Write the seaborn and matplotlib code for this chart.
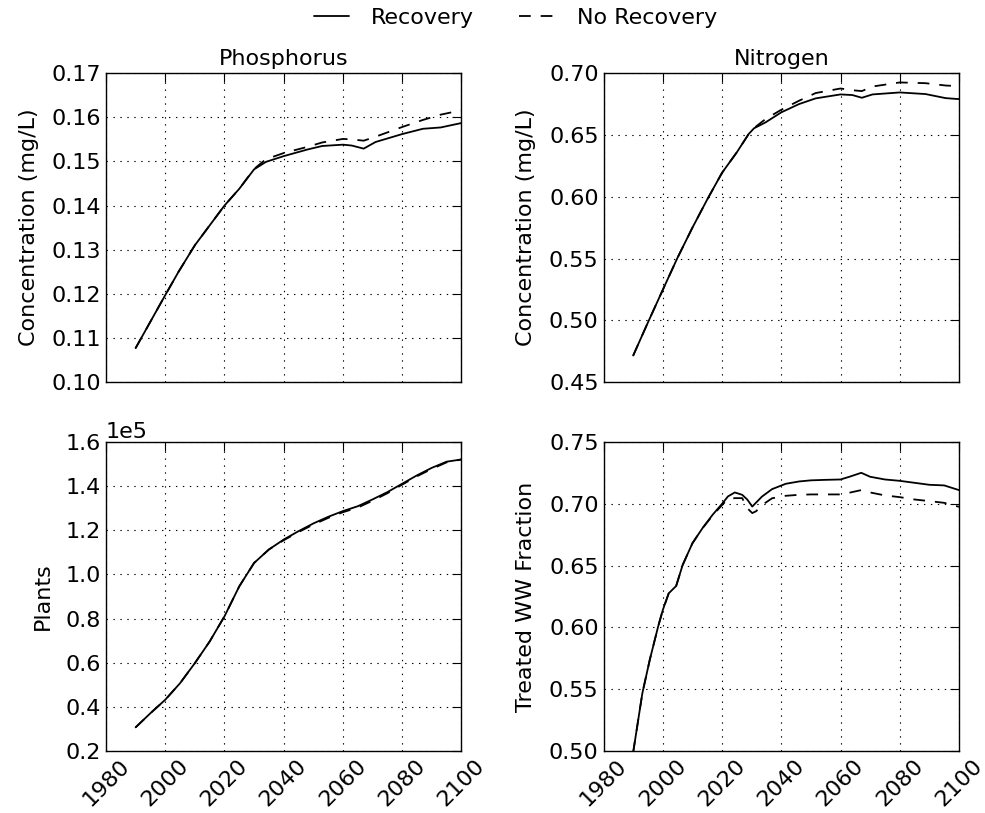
import numpy as np
import pandas as pd
import matplotlib
matplotlib.use("Agg")
import matplotlib.pyplot as plt
import seaborn as sns
from matplotlib.ticker import FormatStrFormatter, MultipleLocator

# Phosphorus concentration (mg/L)
p_years = [1990, 1995, 2000, 2004.5, 2010, 2015, 2020, 2025, 2030, 2034, 2040, 2048, 2053,
           2060, 2063, 2067, 2071, 2080, 2087, 2093, 2100]
p_recovery = [0.1077, 0.1137, 0.1197, 0.1250, 0.1310, 0.1355, 0.1400, 0.1438, 0.1482, 0.1499, 0.1512, 0.1527, 0.1535,
              0.1538, 0.1536, 0.1529, 0.1544, 0.1562, 0.1574, 0.1577, 0.1587]
p_no_recovery = [0.1077, 0.1137, 0.1197, 0.1250, 0.1310, 0.1355, 0.1400, 0.1438, 0.1483, 0.1505, 0.1519, 0.1533, 0.1543,
                 0.1551, 0.1550, 0.1547, 0.1556, 0.1578, 0.1594, 0.1606, 0.1616]

# Nitrogen concentration (mg/L)
n_years = [1990, 1995, 2000, 2005, 2010, 2015, 2020, 2025, 2029, 2030.8, 2034.7, 2040, 2046, 2051.6,
           2060, 2064, 2067.2, 2070.8, 2080, 2088.7, 2095.5, 2100]
n_recovery = [0.4715, 0.4984, 0.5247, 0.5508, 0.5750, 0.5978, 0.6194, 0.6360, 0.6508, 0.6554, 0.6602, 0.6683, 0.6750, 0.6796,
              0.6828, 0.6823, 0.6801, 0.6828, 0.6844, 0.6831, 0.6798, 0.6790]
n_no_recovery = [0.4715, 0.4984, 0.5247, 0.5508, 0.5750, 0.5978, 0.6194, 0.6360, 0.6508, 0.6556, 0.6629, 0.6704, 0.6777, 0.6839,
                 0.6876, 0.6862, 0.6855, 0.6892, 0.6925, 0.6919, 0.6900, 0.6895]

# Number of plants
pl_years = [1990, 1995, 2000, 2005, 2010, 2015, 2020, 2025, 2030, 2035, 2040, 2045,
            2050, 2055, 2060, 2065, 2070, 2075, 2080, 2085, 2090, 2095, 2100]
pl_recovery = [30700, 37100, 43200, 50700, 59800, 69600, 81000, 94600, 105200, 111300, 115800, 119600,
               123100, 126100, 128700, 130900, 134000, 137300, 141100, 144900, 148300, 151100, 152100]
pl_no_recovery = [30700, 37100, 43200, 50700, 59800, 69600, 81000, 94600, 105200, 111300, 115500, 119200,
                  122600, 125600, 128200, 130300, 133400, 136800, 140700, 144500, 147800, 150800, 152100]

# Treated wastewater fraction
ww_years = [1990, 1993.1, 1995.6, 1998.4, 2000, 2002, 2004.5, 2006.7, 2010, 2013.4, 2016.8, 2020, 2022,
            2024.3, 2026.8, 2028.5, 2030.2, 2031.5, 2033.5, 2036.9, 2041.5, 2046, 2050, 2055, 2060,
            2063, 2067, 2070, 2075, 2080, 2085, 2090, 2095, 2100]
ww_recovery = [0.4990, 0.5468, 0.5738, 0.6005, 0.6141, 0.6276, 0.6335, 0.6505, 0.6681, 0.6803, 0.6911, 0.7000, 0.7060,
               0.7092, 0.7073, 0.7035, 0.6978, 0.7010, 0.7059, 0.7119, 0.7162, 0.7181, 0.7190, 0.7194, 0.7197,
               0.7219, 0.7251, 0.7219, 0.7197, 0.7186, 0.7170, 0.7154, 0.7149, 0.7111]
ww_no_recovery = [0.4990, 0.5468, 0.5738, 0.6005, 0.6141, 0.6276, 0.6335, 0.6505, 0.6681, 0.6803, 0.6905, 0.6990, 0.7040,
                  0.7046, 0.7046, 0.6965, 0.6925, 0.6940, 0.6990, 0.7045, 0.7065, 0.7073, 0.7076, 0.7076, 0.7076,
                  0.7090, 0.7111, 0.7092, 0.7068, 0.7054, 0.7035, 0.7022, 0.7008, 0.6976]

scenarios = ["Recovery", "No Recovery"]

sns.set_style("white")
plt.rcParams.update({
    "font.size": 16,
    "axes.edgecolor": "k",
    "axes.linewidth": 1.0,
    "xtick.direction": "in",
    "ytick.direction": "in",
    "xtick.top": True,
    "ytick.right": True,
    "xtick.major.size": 6.5,
    "ytick.major.size": 6.5,
    "xtick.color": "k",
    "ytick.color": "k",
    "xtick.labelsize": 16,
    "ytick.labelsize": 16,
    "axes.titlesize": 16,
    "axes.labelsize": 16,
    "text.color": "k",
    "axes.labelcolor": "k",
})

fig, axes = plt.subplots(2, 2, figsize=(9.85, 8.13), dpi=100)
fig.subplots_adjust(left=0.1076, right=0.9736, top=0.910, bottom=0.0763, wspace=0.40, hspace=0.194)


def make_df(years, rec, norec):
    n = len(years)
    return pd.DataFrame({
        "year": list(years) * 2,
        "value": list(rec) + list(norec),
        "scenario": [scenarios[0]] * n + [scenarios[1]] * n,
    })


panels = [
    (axes[0, 0], make_df(p_years, p_recovery, p_no_recovery), "Phosphorus", "Concentration (mg/L)", (0.10, 0.17), 0.01),
    (axes[0, 1], make_df(n_years, n_recovery, n_no_recovery), "Nitrogen", "Concentration (mg/L)", (0.45, 0.70), 0.05),
    (axes[1, 0], make_df(pl_years, pl_recovery, pl_no_recovery), None, "Plants", (20000, 160000), 20000),
    (axes[1, 1], make_df(ww_years, ww_recovery, ww_no_recovery), None, "Treated WW Fraction", (0.50, 0.75), 0.05),
]

for i, (ax, df, title, ylabel, ylim, step) in enumerate(panels):
    sns.lineplot(data=df, x="year", y="value", style="scenario", style_order=scenarios,
                 dashes={"Recovery": "", "No Recovery": (6.5, 5.5)},
                 color="k", lw=1.3, estimator=None, sort=False, ax=ax, legend=(i == 0))
    ax.set_xlim(1980, 2100)
    ax.set_ylim(*ylim)
    ax.xaxis.set_major_locator(MultipleLocator(20))
    ax.yaxis.set_major_locator(MultipleLocator(step))
    ax.grid(True, color="k", linestyle=(0, (1.25, 5)), linewidth=0.8)
    ax.set_xlabel("")
    ax.set_ylabel(ylabel, labelpad=9)
    if title:
        ax.set_title(title, pad=6)
    if ax in axes[0]:
        ax.tick_params(axis="x", labelbottom=False)
    else:
        ax.tick_params(axis="x", labelrotation=45)
    for s in ax.spines.values():
        s.set_visible(True)

axes[0, 0].yaxis.set_major_formatter(FormatStrFormatter("%.2f"))
axes[0, 1].yaxis.set_major_formatter(FormatStrFormatter("%.2f"))
axes[1, 1].yaxis.set_major_formatter(FormatStrFormatter("%.2f"))
axes[1, 0].ticklabel_format(axis="y", style="sci", scilimits=(0, 0))
axes[1, 0].yaxis.get_offset_text().set_fontsize(16)

handles, labels = axes[0, 0].get_legend_handles_labels()
axes[0, 0].get_legend().remove()
fig.legend(handles, labels, loc="upper center", bbox_to_anchor=(0.523, 1.015), ncol=2, frameon=False,
           handlelength=1.6, handletextpad=1.0, columnspacing=2.0, fontsize=16)

fig.savefig("out.png", dpi=100)
